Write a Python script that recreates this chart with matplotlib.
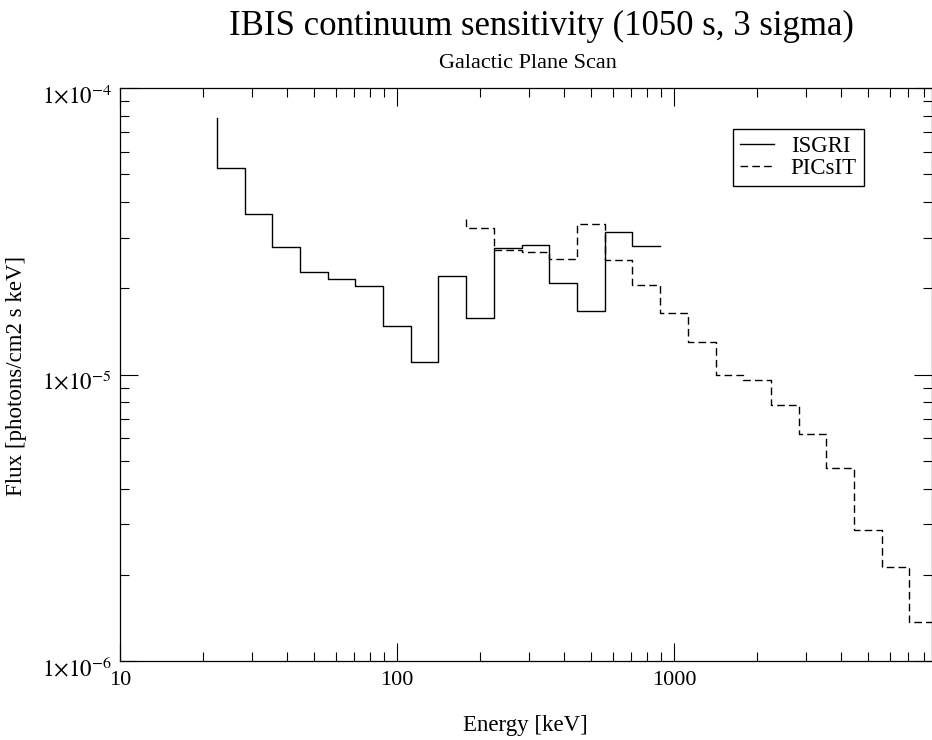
"""IBIS continuum sensitivity, Galactic Plane Scan (ISGRI vs PICsIT)."""

import matplotlib
matplotlib.use("Agg")
import matplotlib.pyplot as plt
import matplotlib.transforms as mtransforms
from matplotlib.ticker import FixedLocator, LogLocator, NullFormatter

plt.rcParams["font.family"] = ["Liberation Serif", "DejaVu Serif"]
plt.rcParams["mathtext.fontset"] = "stix"
plt.rcParams["lines.scale_dashes"] = False

# Bin edges in keV (as read from the step positions)
isgri_edges = [22.4, 28.2, 35.5, 44.7, 56.2, 70.8, 89.1, 112, 141, 178,
               224, 282, 355, 447, 562, 708, 891]
# first point is the top of the opening vertical, then one flux per bin
isgri_flux = [7.83e-5, 5.25e-5, 3.64e-5, 2.79e-5, 2.27e-5, 2.16e-5, 2.03e-5,
              1.48e-5, 1.11e-5, 2.21e-5, 1.58e-5, 2.76e-5, 2.83e-5, 2.09e-5,
              1.67e-5, 3.14e-5, 2.81e-5]

picsit_edges = [178, 224, 282, 355, 447, 562, 708, 891, 1122, 1413, 1778,
                2239, 2818, 3548, 4467, 5623, 7079, 8913]
picsit_flux = [3.48e-5, 3.25e-5, 2.72e-5, 2.68e-5, 2.53e-5, 3.34e-5, 2.51e-5,
               2.05e-5, 1.64e-5, 1.30e-5, 9.94e-6, 9.57e-6, 7.83e-6, 6.21e-6,
               4.72e-6, 2.87e-6, 2.13e-6, 1.37e-6]

x_major = [10, 100, 1000]
x_major_labels = ["10", "100", "1000"]
y_major = [1e-6, 1e-5, 1e-4]
y_major_labels = [r"$1{\times}10^{-6}$", r"$1{\times}10^{-5}$",
                  r"$1{\times}10^{-4}$"]

W, H = 932, 740
fig = plt.figure(figsize=(W / 100, H / 100), dpi=100)
ax = fig.add_axes([120 / W, 1 - 661 / H, 811.5 / W, 573 / H])

ax.step(isgri_edges, isgri_flux, where="pre", color="black", lw=1.0,
        label="ISGRI")
ax.step(picsit_edges, picsit_flux, where="pre", color="black", lw=1.0,
        dashes=(5.5, 3.0), label="PICsIT")

ax.set_xscale("log")
ax.set_yscale("log")
ax.set_xlim(10, 8500)
ax.set_ylim(1e-6, 1e-4)

ax.xaxis.set_major_locator(FixedLocator(x_major))
ax.set_xticklabels(x_major_labels)
ax.yaxis.set_major_locator(FixedLocator(y_major))
ax.set_yticklabels(y_major_labels)
ax.xaxis.set_minor_locator(LogLocator(base=10, subs=range(2, 10), numticks=20))
ax.yaxis.set_minor_locator(LogLocator(base=10, subs=range(2, 10), numticks=20))
ax.xaxis.set_minor_formatter(NullFormatter())
ax.yaxis.set_minor_formatter(NullFormatter())

ax.tick_params(which="both", direction="in", top=True, right=True,
               width=0.8, labelsize=16)
ax.tick_params(which="major", length=13)
ax.tick_params(which="minor", length=6.5)
ax.tick_params(axis="x", which="major", pad=7)
ax.tick_params(axis="y", which="major", pad=6, labelsize=16.5)
for s in ax.spines.values():
    s.set_linewidth(0.9)

# y tick labels sit a little below their ticks in the original
shift = mtransforms.ScaledTranslation(0, -6 / 100, fig.dpi_scale_trans)
for lab in ax.get_yticklabels():
    lab.set_transform(lab.get_transform() + shift)

ax.set_xlabel("Energy [keV]", fontsize=16.5, labelpad=18)
fig.text(17 / W, 1 - 376 / H, "Flux [photons/cm2 s keV]", rotation=90,
         ha="center", va="center", fontsize=16.5)

fig.text(541 / W, 1 - 26 / H, "IBIS continuum sensitivity (1050 s, 3 sigma)",
         ha="center", va="center", fontsize=25)
fig.text(528 / W, 1 - 63 / H, "Galactic Plane Scan",
         ha="center", va="center", fontsize=16)

ax.legend(loc="upper left", bbox_to_anchor=(0.756, 0.928), fontsize=16.5,
          frameon=True, fancybox=False, edgecolor="black", framealpha=1,
          handlelength=1.45, handletextpad=0.75, borderpad=0.3,
          labelspacing=0.05, borderaxespad=0)

fig.savefig("out.png", dpi=100)
